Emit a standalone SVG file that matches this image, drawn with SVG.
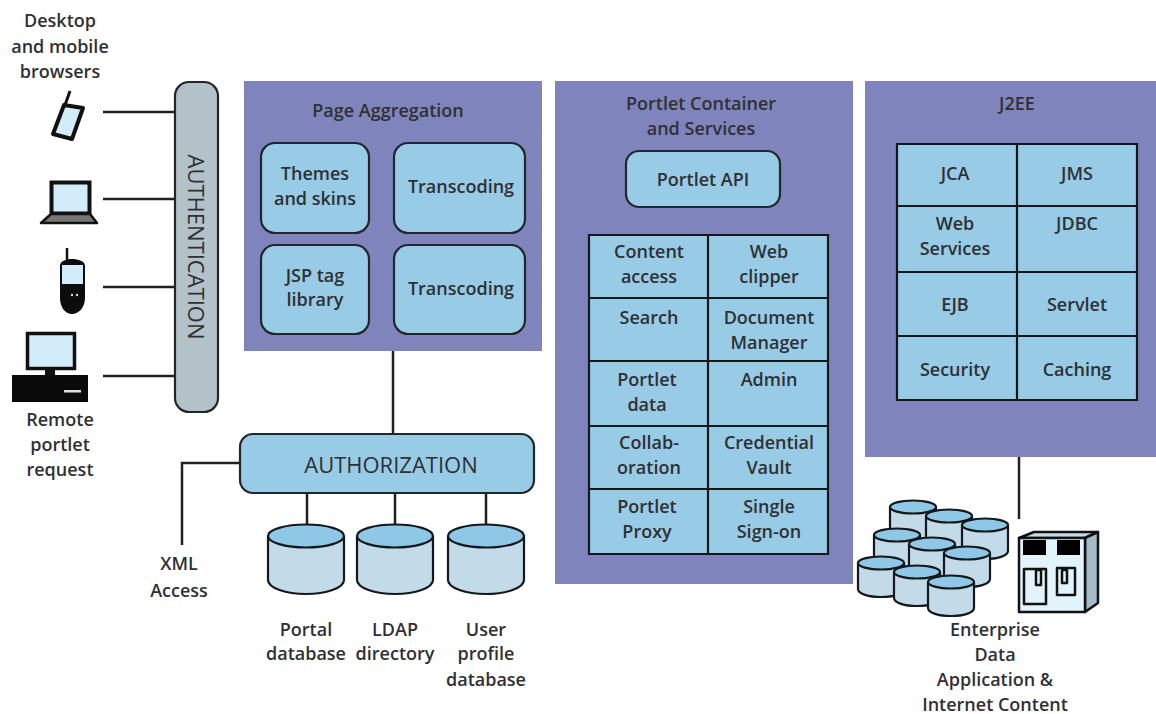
<svg xmlns="http://www.w3.org/2000/svg" width="1156" height="714" viewBox="0 0 1156 714">
<style>
text{font-family:"Open Sans","Noto Sans","Liberation Sans",sans-serif;font-size:18px;font-weight:600;fill:#2f3033;text-anchor:middle}
.panel{fill:#7f85bc}
.box{fill:#97cbe6;stroke:#22262a;stroke-width:2.200}
.ln{fill:none;stroke:#1e2022;stroke-width:2.500}
.cell{fill:none;stroke:#14181c;stroke-width:2.200}
.body{fill:#c3dbe8;stroke:#14181c;stroke-width:2.200}
.top{fill:#8fc7e6;stroke:#14181c;stroke-width:2.200}
</style>
<defs>
<g id="bigdb">
<path class="body" d="M-38 0V44C-38 52-20 58 0 58S38 52 38 44V0"/>
<ellipse class="top" cx="0" cy="0" rx="38" ry="11.500"/>
</g>
<g id="smalldb">
<path class="body" d="M-23 0V26C-23 31-12 34 0 34S23 31 23 26V0"/>
<ellipse class="top" cx="0" cy="0" rx="23" ry="6.500"/>
</g>
</defs>
<rect width="1156" height="714" fill="#fff"/>
<g id="connectors">
<path class="ln" d="M103 112H175M103 199H175M103 287H175M103 376H175"/>
<path class="ln" d="M393 351V434M240 463H182V545"/>
<path class="ln" d="M307 493V525M395 493V525M486 493V525"/>
<path class="ln" d="M1019 453V519"/>
</g>
<g id="devices">
<g id="phone">
<path d="M65 105L70 91" stroke="#111" stroke-width="3" fill="none"/>
<path d="M64 105L83 108L72 139L53 134Z" fill="#d2ecf9" stroke="#111" stroke-width="4" stroke-linejoin="round"/>
</g>
<g id="laptop">
<rect x="51.500" y="182.500" width="38" height="31" fill="#d2ecf9" stroke="#111" stroke-width="4"/>
<path d="M41 223L51 214H90L97 223Z" fill="#777" stroke="#111" stroke-width="2.500" stroke-linejoin="round"/>
</g>
<g id="mobile">
<path d="M67 248V260" stroke="#111" stroke-width="2.500"/>
<path d="M60 266C60 261 66 259 72 259S85 261 85 266V298C85 307 79 314 72 314S60 307 60 298Z" fill="#0c0c0c"/>
<rect x="62" y="265" width="21" height="19" fill="#d2ecf9"/>
<circle cx="72" cy="295" r="1.200" fill="#ddd"/><circle cx="77" cy="295" r="1.200" fill="#ddd"/>
</g>
<g id="desktop">
<rect x="27.500" y="333.500" width="47" height="35" fill="#d2ecf9" stroke="#111" stroke-width="3.500"/>
<rect x="45" y="369" width="10" height="7" fill="#111"/>
<rect x="12" y="375" width="76" height="27" fill="#0a0a0a"/>
<rect x="64" y="390" width="17" height="2.500" fill="#ddd"/>
</g>
<text x="60" y="27">Desktop</text><text x="60" y="53">and mobile</text><text x="60" y="78">browsers</text>
<text x="60" y="426">Remote</text><text x="60" y="451">portlet</text><text x="60" y="476">request</text>
</g>
<g id="authentication">
<rect x="175" y="82" width="43" height="330" rx="14" fill="#b3c2c8" stroke="#22262a" stroke-width="2.200"/>
<text transform="translate(188 247) rotate(90)" style="font-size:22px;font-weight:500">AUTHENTICATION</text>
</g>
<g id="page-aggregation">
<rect class="panel" x="244" y="81" width="298" height="270"/>
<text x="388" y="117">Page Aggregation</text>
<rect class="box" x="261" y="143" width="108" height="90" rx="14"/>
<text x="315" y="180">Themes</text><text x="315" y="205">and skins</text>
<rect class="box" x="394" y="143" width="131" height="90" rx="14"/>
<text x="461" y="193">Transcoding</text>
<rect class="box" x="261" y="245" width="108" height="89" rx="14"/>
<text x="315" y="282">JSP tag</text><text x="315" y="306">library</text>
<rect class="box" x="394" y="245" width="131" height="89" rx="14"/>
<text x="461" y="295">Transcoding</text>
</g>
<g id="portlet-container">
<rect class="panel" x="555" y="81" width="298" height="503"/>
<text x="701" y="110">Portlet Container</text><text x="701" y="135">and Services</text>
<rect class="box" x="626" y="151" width="154" height="56" rx="13"/>
<text x="703" y="186">Portlet API</text>
<rect x="589" y="235" width="239" height="319" fill="#97cbe6"/>
<path class="cell" d="M589 235H828V554H589ZM708 235V554M589 298H828M589 361H828M589 426H828M589 489H828"/>
<text x="649" y="258">Content</text><text x="649" y="283">access</text>
<text x="769" y="258">Web</text><text x="769" y="283">clipper</text>
<text x="649" y="324">Search</text>
<text x="769" y="324">Document</text><text x="769" y="349">Manager</text>
<text x="647" y="386">Portlet</text><text x="647" y="411">data</text>
<text x="769" y="386">Admin</text>
<text x="649" y="449">Collab-</text><text x="649" y="474">oration</text>
<text x="769" y="449">Credential</text><text x="769" y="474">Vault</text>
<text x="647" y="513">Portlet</text><text x="647" y="538">Proxy</text>
<text x="769" y="513">Single</text><text x="769" y="538">Sign-on</text>
</g>
<g id="j2ee">
<rect class="panel" x="865" y="81" width="291" height="376"/>
<text x="1017" y="110">J2EE</text>
<rect x="897" y="144" width="240" height="256" fill="#97cbe6"/>
<path class="cell" d="M897 144H1137V400H897ZM1017 144V400M897 206H1137M897 272H1137M897 336H1137"/>
<text x="955" y="180">JCA</text><text x="1077" y="180">JMS</text>
<text x="955" y="230">Web</text><text x="955" y="255">Services</text>
<text x="1077" y="230">JDBC</text>
<text x="955" y="311">EJB</text><text x="1077" y="311">Servlet</text>
<text x="955" y="376">Security</text><text x="1077" y="376">Caching</text>
</g>
<g id="authorization">
<rect class="box" x="240" y="434" width="294" height="59" rx="13"/>
<text x="391" y="473" style="font-size:22px;font-weight:500">AUTHORIZATION</text>
</g>
<g id="xml-access"><text x="179" y="570">XML</text><text x="179" y="597">Access</text></g>
<g id="portal-db"><use href="#bigdb" x="306" y="536"/><text x="306" y="636">Portal</text><text x="306" y="660">database</text></g>
<g id="ldap-db"><use href="#bigdb" x="395" y="536"/><text x="395" y="636">LDAP</text><text x="395" y="660">directory</text></g>
<g id="user-db"><use href="#bigdb" x="486" y="536"/><text x="486" y="636">User</text><text x="486" y="660">profile</text><text x="486" y="686">database</text></g>
<g id="enterprise">
<use href="#smalldb" x="913" y="507"/><use href="#smalldb" x="949" y="516"/><use href="#smalldb" x="985" y="525"/>
<use href="#smalldb" x="897" y="535"/><use href="#smalldb" x="932" y="544"/><use href="#smalldb" x="967" y="553"/>
<use href="#smalldb" x="881" y="563"/><use href="#smalldb" x="917" y="572"/><use href="#smalldb" x="951" y="582"/>
<g id="server" stroke="#111" stroke-width="2.500" stroke-linejoin="round">
<path d="M1019 538L1034 532H1098L1085 538Z" fill="#c3dbe8"/>
<path d="M1085 538L1098 532V603L1085 612Z" fill="#a5bac6"/>
<rect x="1019" y="538" width="66" height="74" fill="#e2f3fb"/>
<rect x="1023" y="540" width="23" height="15" fill="#000" stroke="none"/>
<rect x="1057" y="540" width="23" height="15" fill="#000" stroke="none"/>
<rect x="1024" y="569" width="22" height="35" fill="none"/>
<rect x="1057" y="568" width="18" height="27" fill="none"/>
<rect x="1036" y="570" width="5" height="15" fill="none"/>
<rect x="1062" y="570" width="5" height="13" fill="none"/>
</g>
<text x="995" y="636">Enterprise</text><text x="995" y="661">Data</text><text x="995" y="686">Application &amp;</text><text x="995" y="711">Internet Content</text>
</g>
</svg>
